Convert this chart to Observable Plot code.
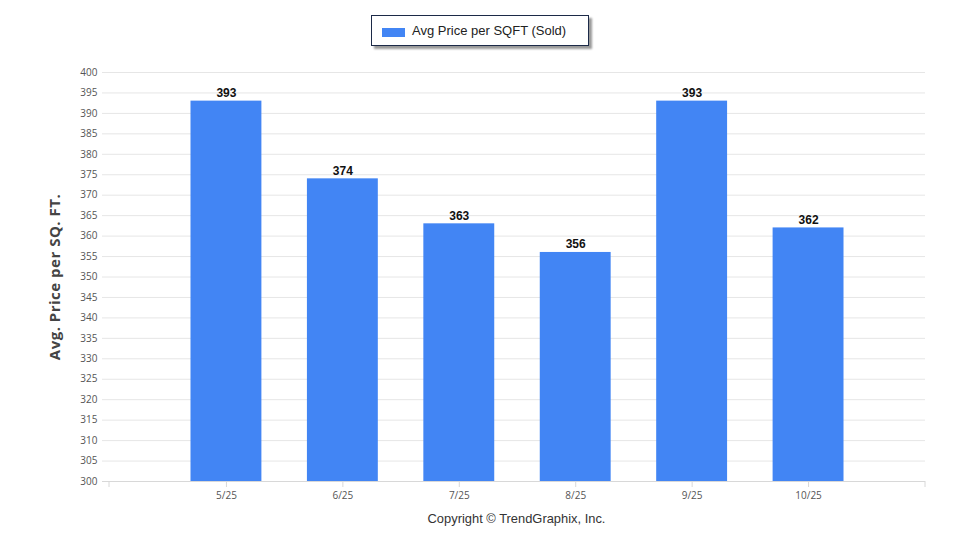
<!DOCTYPE html>
<html>
<head>
<meta charset="utf-8">
<script src="https://cdn.jsdelivr.net/npm/d3@7"></script>
<script src="https://cdn.jsdelivr.net/npm/@observablehq/plot@0.6"></script>
<style>
  html, body { margin: 0; padding: 0; background: #fff; }
  #wrap { position: relative; width: 960px; height: 550px; overflow: hidden; }
  #legend {
    position: absolute; left: 371px; top: 15px; width: 216px; height: 29px;
    border: 1px solid #1c2a48; box-shadow: 3px 3px 2px #9a9a9a; background: #fff;
    font-family: "Liberation Sans", Arial, sans-serif; font-size: 13px; color: #222;
  }
  #legend .sw { position: absolute; left: 10px; top: 12px; width: 23px; height: 9px; background: #4285F4; }
  #legend .tx { position: absolute; left: 40px; top: 7px; white-space: nowrap; }
  #caption {
    position: absolute; left: 0; width: 1033px; top: 511px; text-align: center;
    font-family: "Liberation Sans", Arial, sans-serif; font-size: 12.9px; color: #333;
  }
  .ylab text { letter-spacing: 0.5px; }
</style>
</head>
<body>
<div id="wrap">
  <div id="chart"></div>
  <div id="legend"><div class="sw"></div><div class="tx">Avg Price per SQFT (Sold)</div></div>
  <div id="caption">Copyright © TrendGraphix, Inc.</div>
</div>
<script>
const months = ["5/25", "6/25", "7/25", "8/25", "9/25", "10/25"];
const values = [393, 374, 363, 356, 393, 362];
const yTicks = [300, 305, 310, 315, 320, 325, 330, 335, 340, 345, 350, 355, 360, 365, 370, 375, 380, 385, 390, 395, 400];
const yLabel = "Avg. Price per SQ. FT.";
const seriesName = "Avg Price per SQFT (Sold)";

const data = months.map((m, i) => ({month: m, value: values[i]}));

const chart = Plot.plot({
  width: 960,
  height: 550,
  marginLeft: 102,
  marginRight: 35,
  marginTop: 72,
  marginBottom: 69,
  style: {fontFamily: "'Open Sans', sans-serif", fontSize: "10px", color: "#555", background: "#fff"},
  x: {domain: months, paddingInner: 0.391, paddingOuter: 0.7, insetLeft: 7, round: false, label: null},
  y: {domain: [300, 400], label: null},
  marks: [
    Plot.gridY(yTicks, {stroke: "#e6e6e6", strokeOpacity: 1}),
    Plot.ruleY([300], {stroke: "#d8d8d8"}),
    Plot.barY(data, {x: "month", y1: 300, y2: "value", fill: "#4285F4"}),
    Plot.text(data, {x: "month", y: "value", text: d => String(d.value), dy: -8,
      fontWeight: "bold", fontSize: 12, fill: "#111", fontFamily: "'Liberation Sans', Arial, sans-serif"}),
    Plot.axisY(yTicks, {tickSize: 0, tickPadding: 5, fill: "#555", fontSize: 10, label: null}),
    Plot.axisX({tickSize: 6, tickPadding: 4, stroke: "#d8d8d8", fill: "#555", fontSize: 10, label: null}),
    Plot.text([yLabel], {frameAnchor: "left", textAnchor: "middle", rotate: -90, dx: -47, fontWeight: "bold",
      fontSize: 15, fill: "#444", fontFamily: "'Open Sans', sans-serif", className: "ylab"})
  ]
});

// end ticks of the x axis at the ends of the band scale's range
const xs = chart.scale("x");
const ys = chart.scale("y");
const svg = d3.select(chart);
const yBase = ys.apply(300);
svg.append("g").selectAll("line").data(xs.range).join("line")
  .attr("x1", d => d).attr("x2", d => d)
  .attr("y1", yBase).attr("y2", yBase + 6)
  .attr("stroke", "#d8d8d8");

document.getElementById("chart").appendChild(chart);
</script>
</body>
</html>
